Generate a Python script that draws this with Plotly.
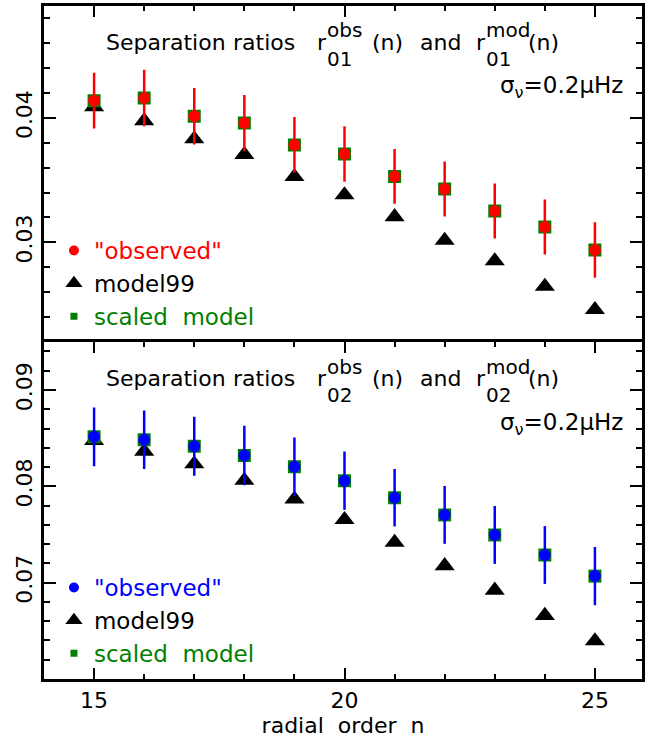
import plotly.graph_objects as go

# radial order
n = [15, 16, 17, 18, 19, 20, 21, 22, 23, 24, 25]

# r01 separation ratios
r01_obs = [0.04139, 0.04161, 0.04013, 0.03960, 0.03783, 0.03710, 0.03530, 0.03429, 0.03252, 0.03123, 0.02938]
r01_err = [0.00224, 0.00227, 0.00227, 0.00225, 0.00224, 0.00223, 0.00220, 0.00221, 0.00221, 0.00221, 0.00223]
r01_model99 = [0.04090, 0.03977, 0.03831, 0.03706, 0.03528, 0.03381, 0.03205, 0.03015, 0.02850, 0.02645, 0.02458]
r01_scaled = [0.04139, 0.04161, 0.04013, 0.03960, 0.03783, 0.03710, 0.03530, 0.03429, 0.03252, 0.03123, 0.02938]

# r02 separation ratios
r02_obs = [0.08514, 0.08483, 0.08416, 0.08319, 0.08202, 0.08059, 0.07882, 0.07703, 0.07495, 0.07287, 0.07068]
r02_err = [0.00305, 0.00304, 0.00307, 0.00309, 0.00305, 0.00303, 0.00298, 0.00300, 0.00300, 0.00300, 0.00302]
r02_model99 = [0.08474, 0.08363, 0.08233, 0.08061, 0.07866, 0.07654, 0.07418, 0.07175, 0.06920, 0.06658, 0.06395]
r02_scaled = [0.08514, 0.08483, 0.08416, 0.08319, 0.08202, 0.08059, 0.07882, 0.07703, 0.07495, 0.07287, 0.07068]

x_ticks = [15, 20, 25]
y01_ticks = [0.03, 0.04]
y02_ticks = [0.07, 0.08, 0.09]

FONT = "DejaVu Sans"
RED, BLUE, GREEN, BLACK = "#ff0000", "#0000ff", "#008000", "#000000"

W, H = 648, 740
PL, PR, PT, PB = 44, 645, 6, 679   # plot area edges in pixels


def px_x(x):
    return (x - PL) / (PR - PL)


def px_y(y):
    return (PB - y) / (PB - PT)


fig = go.Figure()


def add_panel(xa, ya, obs, err, model, scaled, obs_color, legend_name):
    # model99 triangles (drawn first, under the others)
    fig.add_trace(go.Scatter(
        x=n, y=model, mode="markers", xaxis=xa, yaxis=ya, showlegend=False,
        marker=dict(symbol="triangle-up", size=17.5, color=BLACK, line=dict(width=0)),
    ))
    # scaled model squares
    fig.add_trace(go.Scatter(
        x=n, y=scaled, mode="markers", xaxis=xa, yaxis=ya, showlegend=False,
        marker=dict(symbol="square", size=13, color=GREEN, line=dict(width=0)),
    ))
    # "observed" with error bars
    fig.add_trace(go.Scatter(
        x=n, y=obs, mode="markers", xaxis=xa, yaxis=ya, showlegend=False,
        marker=dict(symbol="circle", size=12, color=obs_color, line=dict(width=0)),
        error_y=dict(type="data", array=err, visible=True, color=obs_color,
                     thickness=2.5, width=0),
    ))
    # legend keys
    keys = [
        ('"observed"', obs_color, "circle", 10),
        ("model99", BLACK, "triangle-up", 15),
        ("scaled  model", GREEN, "square", 7),
    ]
    for i, (label, col, sym, sz) in enumerate(keys):
        fig.add_trace(go.Scatter(
            x=[None], y=[None], mode="markers", xaxis=xa, yaxis=ya,
            name=f'<span style="color:{col}">{label}</span>',
            legend=legend_name, legendrank=i + 1,
            marker=dict(symbol=sym, size=sz, color=col, line=dict(width=0)),
        ))


add_panel("x2", "y2", r01_obs, r01_err, r01_model99, r01_scaled, RED, "legend")
add_panel("x", "y", r02_obs, r02_err, r02_model99, r02_scaled, BLUE, "legend2")

axis_common = dict(
    showline=True, linewidth=3, linecolor=BLACK, showgrid=False, zeroline=False,
    ticks="inside", tickwidth=2, tickcolor=BLACK,
    tickfont=dict(family=FONT, size=22, color=BLACK),
)

x_common = dict(
    axis_common, range=[14, 25.94], tickmode="array", tickvals=x_ticks, ticklen=11,
    minor=dict(ticks="inside", dtick=1, tick0=14, ticklen=5, tickwidth=2, tickcolor=BLACK),
)

y_minor = dict(ticks="inside", dtick=0.002, tick0=0, ticklen=6, tickwidth=2, tickcolor=BLACK)

split = 0.501
fig.update_layout(
    width=W, height=H,
    margin=dict(l=PL, r=W - PR, t=PT, b=H - PB),
    paper_bgcolor="white", plot_bgcolor="white",
    font=dict(family=FONT, size=22, color=BLACK),
    xaxis=dict(x_common, anchor="y", side="bottom", mirror="ticks",
               title=dict(text="radial  order  n", font=dict(family=FONT, size=22), standoff=4)),
    # top panel: ticks along its upper edge only; the shared middle line comes from the lower panel
    xaxis2=dict(x_common, anchor="y2", matches="x", side="top", mirror=False,
                showticklabels=False),
    yaxis=dict(axis_common, domain=[0, split], range=[0.060, 0.095], anchor="x",
               tickmode="array", tickvals=y02_ticks, tickformat=".2f", tickangle=-90,
               ticklen=12, mirror="ticks", minor=y_minor),
    yaxis2=dict(axis_common, domain=[split, 1], range=[0.022, 0.049], anchor="x2",
                tickmode="array", tickvals=y01_ticks, tickformat=".2f", tickangle=-90,
                ticklen=12, mirror="ticks", minor=y_minor),
    legend=dict(x=px_x(54), y=px_y(229), xanchor="left", yanchor="top",
                bgcolor="rgba(0,0,0,0)", borderwidth=0, tracegroupgap=0,
                font=dict(family=FONT, size=23, color=BLACK)),
    legend2=dict(x=px_x(54), y=px_y(566), xanchor="left", yanchor="top",
                 bgcolor="rgba(0,0,0,0)", borderwidth=0, tracegroupgap=0,
                 font=dict(family=FONT, size=23, color=BLACK)),
    showlegend=True,
)

annotations = []


def text(s, x, y, size=22, anchor="left"):
    annotations.append(dict(
        text=s, x=px_x(x), y=px_y(y), xref="paper", yref="paper",
        xanchor=anchor, yanchor="middle", showarrow=False,
        font=dict(family=FONT, size=size, color=BLACK),
    ))


# panel headings: r with stacked super/subscripts
for dy, sub in ((0, "01"), (336.5, "02")):
    text("Separation", 104, 42 + dy)
    text("ratios", 232, 42 + dy)
    text("r", 316, 42 + dy)
    text("obs", 326, 30 + dy, size=20)
    text(sub, 326, 59 + dy, size=20)
    text("(n)", 372, 42 + dy)
    text("and", 420, 42 + dy)
    text("r", 476, 42 + dy)
    text("mod", 486, 30 + dy, size=20)
    text(sub, 486, 59 + dy, size=20)
    text("(n)", 528, 42 + dy)
    text("σ<sub>ν</sub>=0.2μHz", 628, 87 + dy, size=23, anchor="right")

fig.update_layout(annotations=annotations)

fig.write_html("out.html")
